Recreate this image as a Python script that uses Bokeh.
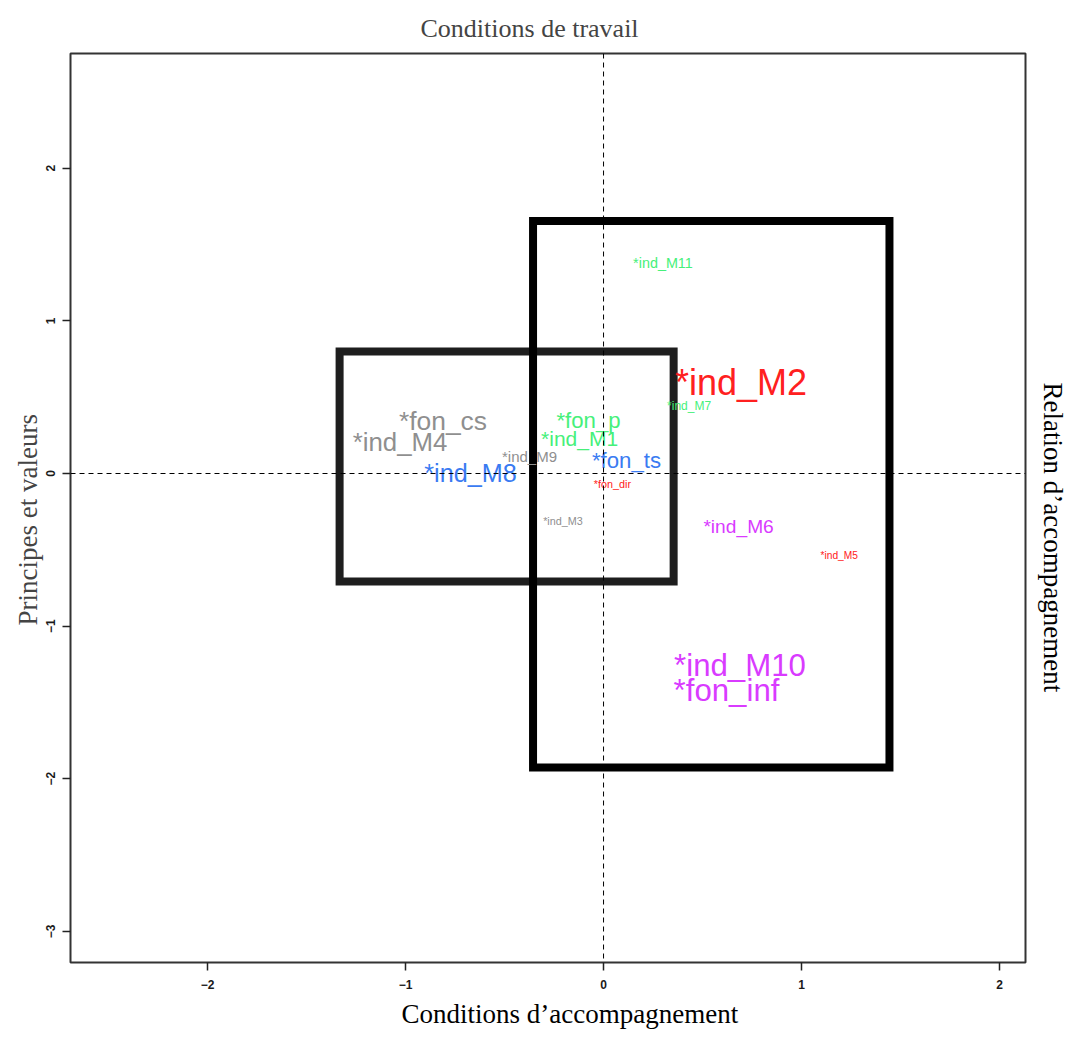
from bokeh.plotting import figure
from bokeh.models import ColumnDataSource, Range1d, FixedTicker, Span, Title, Label
from bokeh.embed import file_html
from bokeh.resources import INLINE

# ---------------- data ----------------
labels = ["*ind_M11", "*ind_M2", "*ind_M7", "*fon_cs", "*ind_M4", "*fon_p",
          "*ind_M1", "*ind_M9", "*fon_ts", "*ind_M8", "*fon_dir", "*ind_M3",
          "*ind_M6", "*ind_M5", "*ind_M10", "*fon_inf"]
x_vals = [0.30, 0.694, 0.432, -0.811, -1.028, -0.076,
          -0.121, -0.374, 0.116, -0.672, 0.045, -0.205,
          0.682, 1.19, 0.689, 0.621]
y_vals = [1.38, 0.596, 0.441, 0.347, 0.205, 0.347,
          0.227, 0.111, 0.085, 0.002, -0.068, -0.312,
          -0.347, -0.537, -1.258, -1.422]
groups = ["green", "red", "green", "gray", "gray", "green",
          "green", "gray", "blue", "blue", "red", "gray",
          "magenta", "red", "magenta", "magenta"]
cex = [1.2, 3.0, 1.0, 2.2, 2.15, 1.85,
       1.75, 1.25, 1.85, 2.1, 0.9, 0.9,
       1.6, 0.85, 2.6, 2.6]

# rectangles (left, right, bottom, top)
box_left = [-1.333, -0.356]
box_right = [0.354, 1.444]
box_bottom = [-0.708, -1.927]
box_top = [0.80, 1.655]

x_ticks = [-2, -1, 0, 1, 2]
y_ticks = [-3, -2, -1, 0, 1, 2]

# ---------------- styles ----------------
palette = {"green": "#46F07A", "red": "#FF2020", "gray": "#8F8F8F",
           "blue": "#3A7BF2", "magenta": "#D93BFF"}
base_px = 12
serif = "Liberation Serif"
sans = "Liberation Sans"

src = ColumnDataSource(dict(
    x=x_vals, y=y_vals, text=labels,
    color=[palette[g] for g in groups],
    fs=["%.1fpx" % (c * base_px) for c in cex],
))

p = figure(width=1068, height=1029, output_backend="svg", toolbar_location=None,
           x_range=Range1d(-2.692, 2.131), y_range=Range1d(-3.204, 2.752),
           min_border_left=70, min_border_right=43, min_border_top=53,
           min_border_bottom=67)
p.grid.visible = False
p.outline_line_color = "#333333"
p.outline_line_width = 2
p.background_fill_color = "white"
p.border_fill_color = "white"

for ax, ticks in ((p.xaxis[0], x_ticks), (p.yaxis[0], y_ticks)):
    ax.ticker = FixedTicker(ticks=ticks)
    ax.axis_line_color = None
    ax.major_tick_line_color = "#222222"
    ax.major_tick_line_width = 1.5
    ax.major_tick_out = 8
    ax.major_tick_in = 0
    ax.minor_tick_out = 0
    ax.minor_tick_in = 0
    ax.major_label_text_font = sans
    ax.major_label_text_font_size = "12px"
    ax.major_label_text_font_style = "bold"
    ax.major_label_text_color = "#1a1a1a"
p.xaxis[0].major_label_standoff = 9
p.yaxis[0].major_label_standoff = 7
p.yaxis[0].major_label_orientation = "vertical"

# boxes
p.quad(left=box_left, right=box_right, bottom=box_bottom, top=box_top,
       fill_color=None, line_color=["#1e1e1e", "black"], line_width=8,
       line_join="miter")

# labels
p.text(x="x", y="y", text="text", source=src, text_color="color",
       text_font_size="fs", text_font={"value": sans},
       text_align="center", text_baseline="middle")

# dashed reference lines
for dim in ("width", "height"):
    p.add_layout(Span(location=0, dimension=dim, line_color="black",
                      line_width=1, line_dash="5 4", level="overlay"))

# titles around the frame
p.add_layout(Title(text="Conditions de travail", text_font=serif,
                   text_font_size="26px", text_font_style="normal",
                   align="left", offset=350, standoff=21), "above")
p.add_layout(Title(text="Principes et valeurs", text_font=serif,
                   text_font_size="27px", text_font_style="normal",
                   align="left", offset=337, standoff=2), "left")
p.add_layout(Label(text="Conditions d\u2019accompagnement", x=331, y=8,
                   x_units="screen", y_units="screen", text_font=serif,
                   text_font_size="27px", text_align="left",
                   text_baseline="middle", text_color="black"), "below")
p.add_layout(Label(text="Relation d\u2019accompagnement", x=27, y=580,
                   x_units="screen", y_units="screen", angle=-90,
                   angle_units="deg", text_font=serif,
                   text_font_size="27px", text_align="left",
                   text_baseline="middle", text_color="black"), "right")

open("out.html", "w").write(file_html(p, INLINE))
